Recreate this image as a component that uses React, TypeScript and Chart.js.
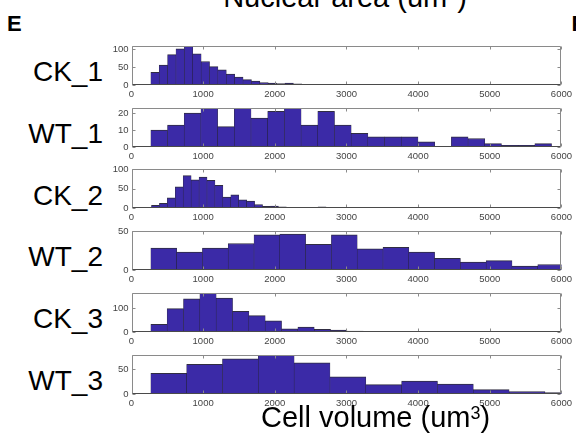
import { useEffect, useRef } from "react";
import { Chart, registerables } from "chart.js";

Chart.register(...registerables);

// Sample names, one histogram per row
const SAMPLES = ["CK_1", "WT_1", "CK_2", "WT_2", "CK_3", "WT_3"];

// Left edge of the first bin and bin width (um^3) for each sample
const BIN_START = [270, 270, 279, 270, 270, 270];
const BIN_WIDTH = [117, 233, 110.7, 360, 228, 500];

// Cell counts per bin
const CK1_COUNTS = [35, 55, 84, 100, 108, 86, 65, 51, 42, 30, 22, 15, 11, 7, 5, 4, 5, 3, 2, 1, 0, 1, 1, 1, 2];
const WT1_COUNTS = [10, 13, 20, 23, 12, 23, 17, 21, 23, 13, 21, 13, 8, 6, 6, 6, 3, 0, 6, 5, 2, 1, 1, 2];
const CK2_COUNTS = [
  7, 12, 26, 54, 83, 72, 79, 71, 58, 28, 34, 21, 18, 9, 4, 5, 3, 2, 2, 2, 2, 3, 1, 1, 1,
  1, 0, 1, 0, 0, 1, 0, 0, 0, 0, 0, 1, 0, 0, 0, 0, 0, 0, 0, 0, 0, 0, 0, 0, 1,
];
const WT2_COUNTS = [28, 23, 28, 34, 45, 46, 33, 45, 27, 29, 23, 15, 10, 12, 5, 7];
const CK3_COUNTS = [32, 97, 138, 162, 141, 86, 68, 46, 13, 20, 11, 8, 4, 3, 1, 0, 0, 1];
const WT3_COUNTS = [42, 60, 71, 79, 63, 35, 19, 26, 20, 9, 5, 3];
const COUNTS = [CK1_COUNTS, WT1_COUNTS, CK2_COUNTS, WT2_COUNTS, CK3_COUNTS, WT3_COUNTS];

// Y-axis limits and tick spacing per row
const Y_MAX = [108, 23, 100, 50, 162, 79];
const Y_STEP = [50, 10, 50, 50, 100, 50];

// Shared x-axis range (um^3)
const X_MIN = 0;
const X_MAX = 6000;
const X_STEP = 1000;

// Layout (px)
const PAGE_W = 576;
const PAGE_H = 443;
const PLOT_LEFT = 131.5;
const PLOT_RIGHT = 561.5;
const FIRST_TOP = 46;
const ROW_PITCH = 61.7;
const PLOT_H = 39;
const PAD_TOP = 10;
const X_AXIS_H = 20;
const TICK_LEN = 3;

const FONT = '"Liberation Sans", Arial, Helvetica, sans-serif';
const BAR_FILL = "#3b2aa7";
const BAR_EDGE = "rgba(25,22,45,0.9)";
const BOX_COLOR = "#8a8a8a";
const AXIS_DARK = "#4a4a4a";
const TICK_TEXT = "#444444";

// Draws a MATLAB-style axes box with inward tick marks
const boxPlugin = {
  id: "axesBox",
  afterDraw(chart: any) {
    const { ctx, chartArea: a, scales } = chart;
    const xs = scales.x;
    const ys = scales.y;
    const L = Math.round(a.left) + 0.5;
    const R = Math.round(a.right) - 0.5;
    const T = Math.round(a.top) + 0.5;
    const B = Math.round(a.bottom) - 0.5;
    ctx.save();
    ctx.lineWidth = 1;
    ctx.strokeStyle = BOX_COLOR;
    ctx.beginPath();
    for (const t of xs.ticks) {
      const px = Math.round(xs.getPixelForValue(t.value)) + 0.5;
      ctx.moveTo(px, T);
      ctx.lineTo(px, T + TICK_LEN);
      ctx.moveTo(px, B);
      ctx.lineTo(px, B - TICK_LEN);
    }
    for (const t of ys.ticks) {
      const py = Math.round(ys.getPixelForValue(t.value)) + 0.5;
      ctx.moveTo(L, py);
      ctx.lineTo(L + TICK_LEN, py);
      ctx.moveTo(R, py);
      ctx.lineTo(R - TICK_LEN, py);
    }
    ctx.stroke();
    ctx.beginPath();
    ctx.moveTo(L, B);
    ctx.lineTo(L, T);
    ctx.lineTo(R, T);
    ctx.lineTo(R, B);
    ctx.stroke();
    ctx.strokeStyle = AXIS_DARK;
    ctx.beginPath();
    ctx.moveTo(L, B);
    ctx.lineTo(R, B);
    ctx.stroke();
    ctx.restore();
  },
};

const plainNumber = (v: any) => String(v);

function Panel({ idx }: { idx: number }) {
  const ref = useRef<HTMLCanvasElement | null>(null);
  const boxTop = FIRST_TOP + ROW_PITCH * idx;
  const canvasH = PAD_TOP + PLOT_H + X_AXIS_H;

  useEffect(() => {
    const start = BIN_START[idx];
    const width = BIN_WIDTH[idx];
    const points = COUNTS[idx].map((c, i) => ({ x: start + width * (i + 0.5), y: c }));
    const tickFont = { family: FONT, size: 9.5 };
    const chart = new Chart(ref.current as HTMLCanvasElement, {
      type: "bar",
      data: {
        datasets: [
          {
            data: points as any,
            backgroundColor: BAR_FILL,
            borderColor: BAR_EDGE,
            borderWidth: { top: 1, left: 0.5, right: 0.5, bottom: 0 } as any,
            borderSkipped: "start",
            barPercentage: 1,
            categoryPercentage: 1,
            clip: 0 as any,
          },
        ],
      },
      options: {
        animation: false,
        responsive: false,
        events: [],
        layout: { padding: { top: PAD_TOP, right: PAGE_W - PLOT_RIGHT, left: 0, bottom: 0 } },
        plugins: { legend: { display: false }, tooltip: { enabled: false } },
        scales: {
          x: {
            type: "linear",
            offset: false,
            min: X_MIN,
            max: X_MAX,
            grid: { display: false, drawTicks: false },
            border: { display: false },
            ticks: {
              stepSize: X_STEP,
              padding: 4,
              font: tickFont,
              color: TICK_TEXT,
              maxRotation: 0,
              autoSkip: false,
              callback: plainNumber,
            },
            afterFit: (s: any) => {
              s.height = X_AXIS_H;
            },
          },
          y: {
            type: "linear",
            min: 0,
            max: Y_MAX[idx],
            grid: { display: false, drawTicks: false },
            border: { display: false },
            ticks: {
              stepSize: Y_STEP[idx],
              includeBounds: false,
              padding: 3,
              font: tickFont,
              color: TICK_TEXT,
              callback: plainNumber,
            },
            afterFit: (s: any) => {
              s.width = PLOT_LEFT;
            },
          },
        },
      } as any,
      plugins: [boxPlugin],
    });
    return () => chart.destroy();
  }, [idx]);

  return (
    <canvas
      ref={ref}
      width={PAGE_W}
      height={canvasH}
      style={{ position: "absolute", left: 0, top: boxTop - PAD_TOP, width: PAGE_W, height: canvasH }}
    />
  );
}

// Places a line of text so that its baseline sits at the given y
function textTop(baseline: number, size: number) {
  return baseline - 0.8465 * size;
}

export default function App() {
  const labelSize = 28;
  const titleSize = 29;
  const letterSize = 22;
  return (
    <div
      style={{
        position: "absolute",
        left: 0,
        top: 0,
        width: PAGE_W,
        height: PAGE_H,
        overflow: "hidden",
        background: "#fff",
        fontFamily: FONT,
        color: "#000",
      }}
    >
      <div
        style={{
          position: "absolute",
          left: 0,
          width: 690,
          textAlign: "center",
          top: textTop(8, titleSize),
          fontSize: titleSize,
          lineHeight: 1,
          whiteSpace: "nowrap",
        }}
      >
        Nuclear area (um<span style={{ fontSize: "0.62em", position: "relative", top: "-0.45em" }}>2</span>)
      </div>
      <div
        style={{
          position: "absolute",
          left: 7,
          top: textTop(32, letterSize),
          fontSize: letterSize,
          fontWeight: "bold",
          lineHeight: 1,
        }}
      >
        E
      </div>
      <div
        style={{
          position: "absolute",
          left: 571.5,
          top: textTop(32, letterSize),
          fontSize: letterSize,
          fontWeight: "bold",
          lineHeight: 1,
        }}
      >
        F
      </div>
      {SAMPLES.map((name, i) => (
        <div
          key={name}
          style={{
            position: "absolute",
            right: PAGE_W - 103,
            top: textTop(FIRST_TOP + ROW_PITCH * i + 36, labelSize),
            fontSize: labelSize,
            lineHeight: 1,
            whiteSpace: "nowrap",
          }}
        >
          {name}
        </div>
      ))}
      {SAMPLES.map((name, i) => (
        <Panel key={"p" + name} idx={i} />
      ))}
      <div
        style={{
          position: "absolute",
          left: 261,
          top: textTop(428, titleSize),
          fontSize: titleSize,
          lineHeight: 1,
          whiteSpace: "nowrap",
        }}
      >
        Cell volume (um<span style={{ fontSize: "0.62em", position: "relative", top: "-0.45em" }}>3</span>)
      </div>
    </div>
  );
}
